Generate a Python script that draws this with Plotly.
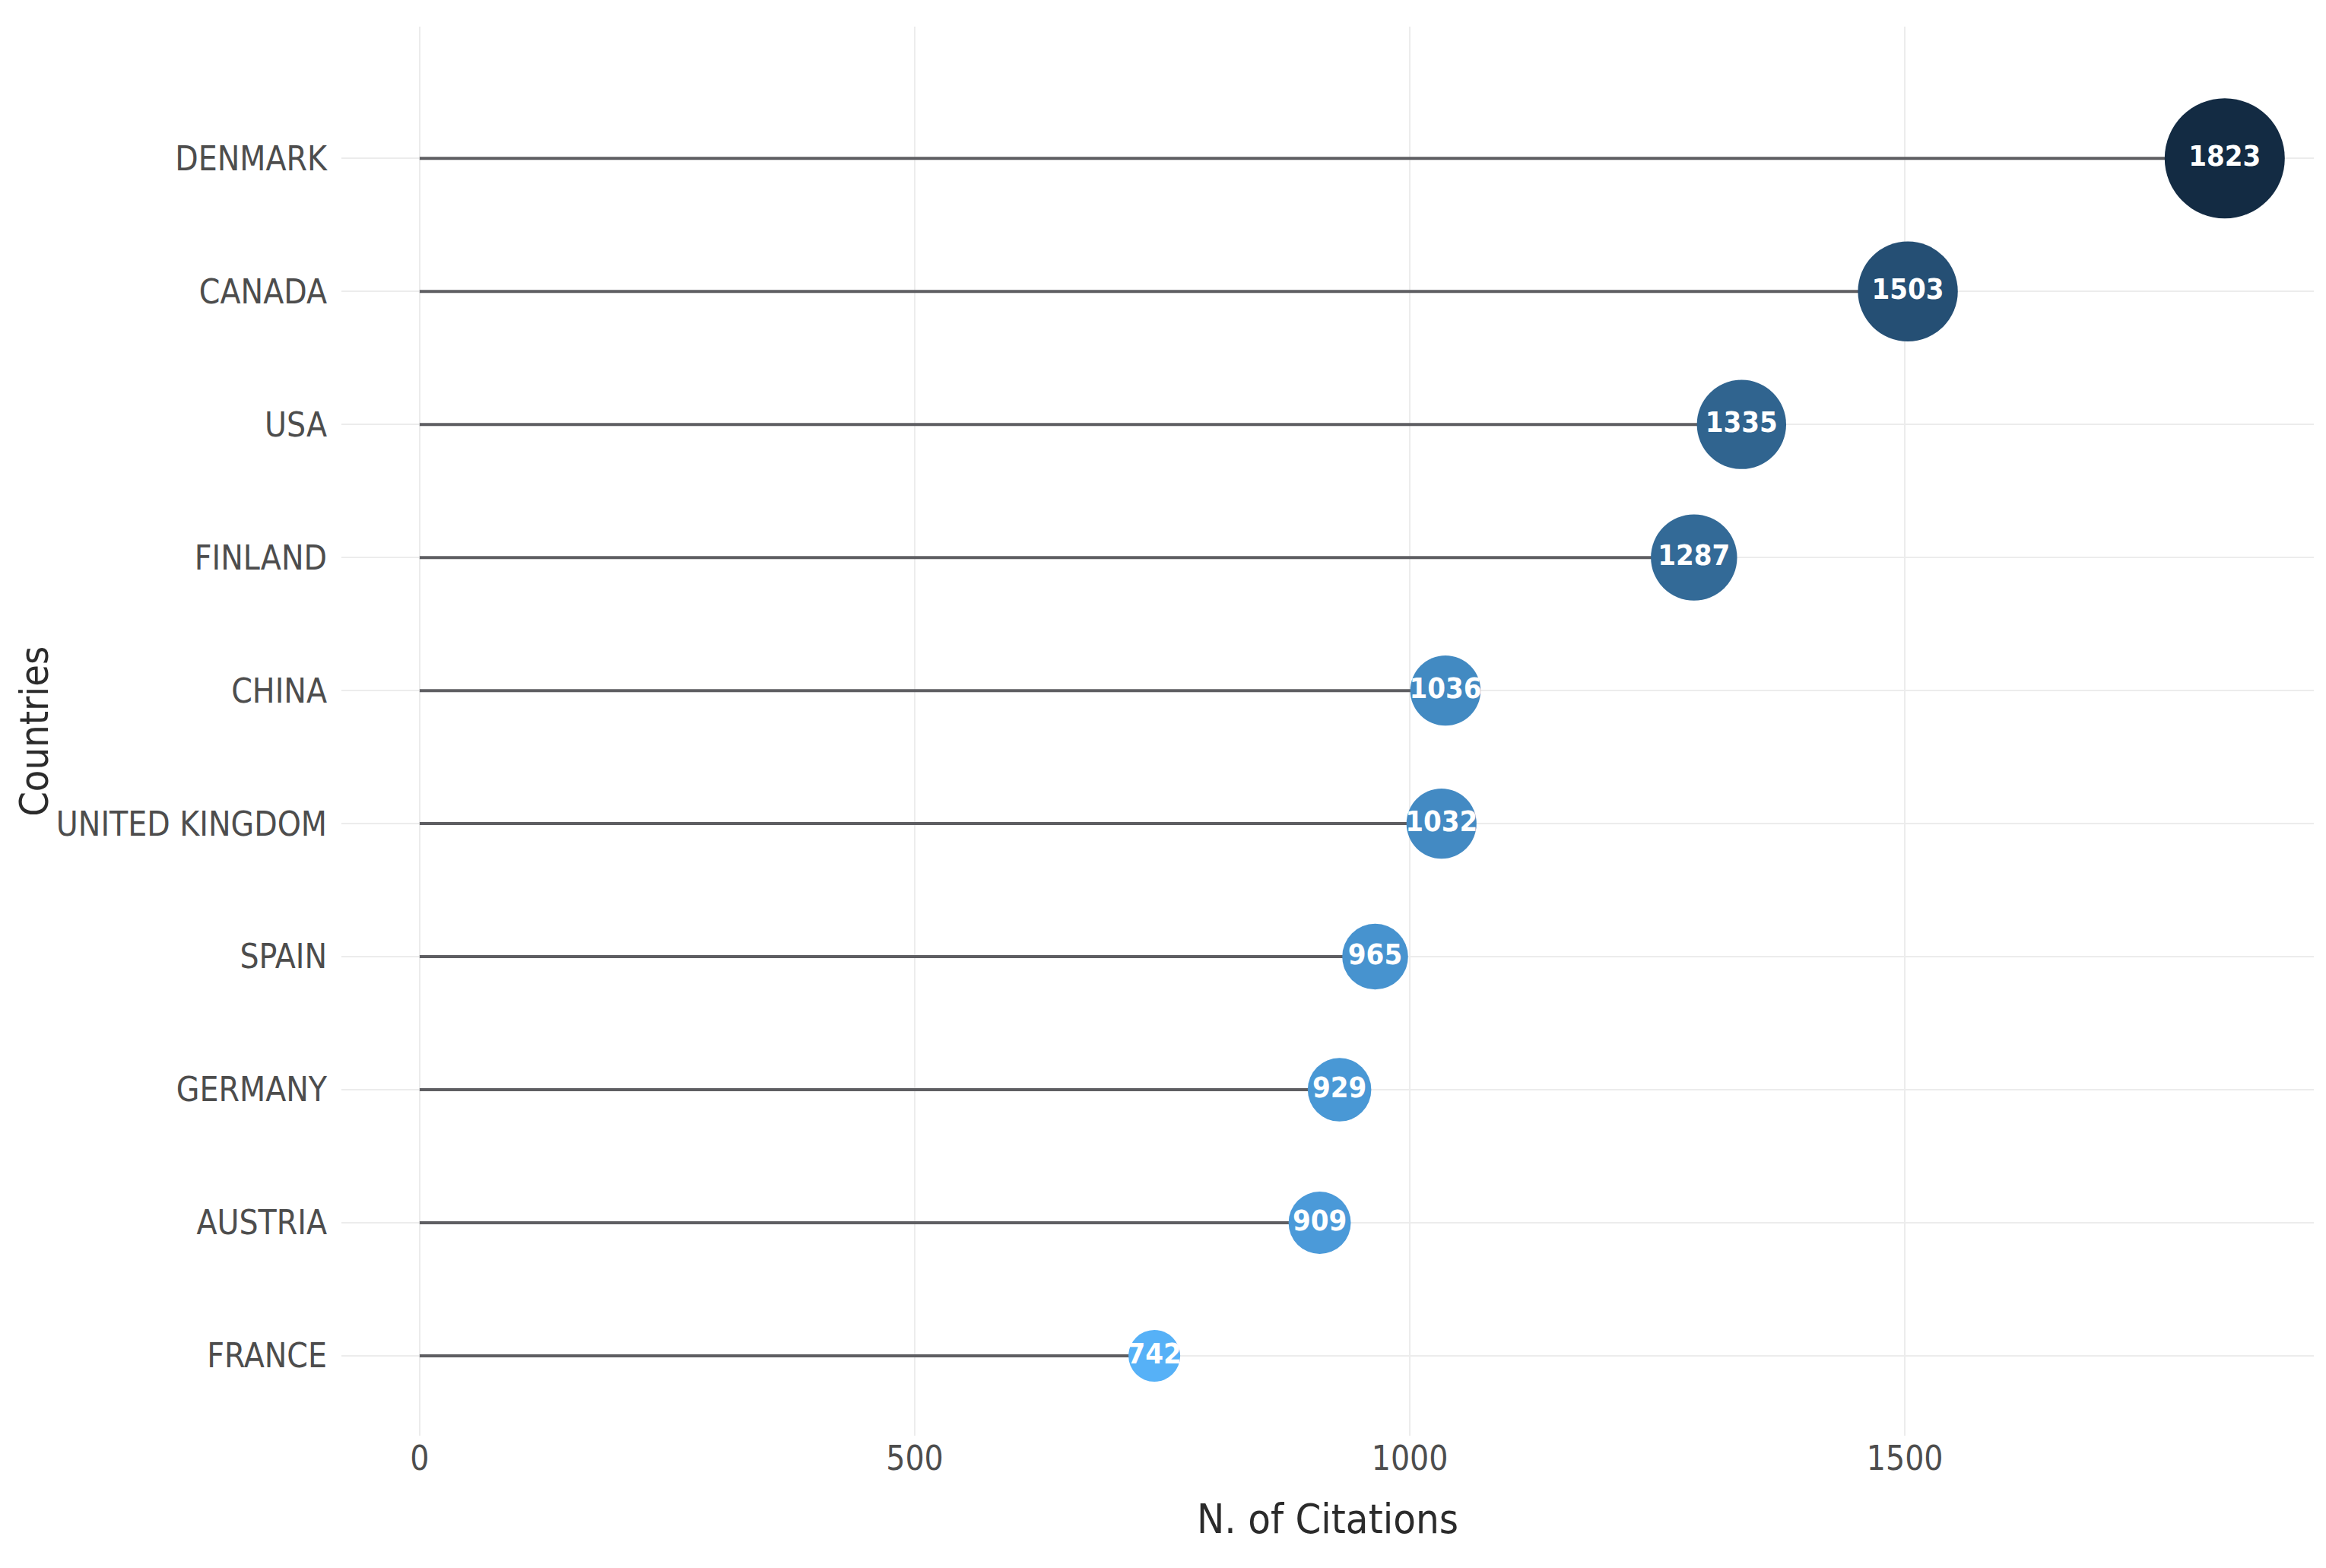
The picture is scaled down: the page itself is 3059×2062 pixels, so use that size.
import plotly.graph_objects as go

countries = ["FRANCE", "AUSTRIA", "GERMANY", "SPAIN", "UNITED KINGDOM",
             "CHINA", "FINLAND", "USA", "CANADA", "DENMARK"]
citations = [742, 909, 929, 965, 1032, 1036, 1287, 1335, 1503, 1823]
x_ticks = [0, 500, 1000, 1500]

# page has an 8px body margin: figure is offset by 8px
W, H = 3051, 2054
ML, MR, MT, MB = 441, 16, 27, 174

# --- colour: ggplot-like gradient (Lab interpolation) from #56B1F7 (low) to #132B43 (high)
def srgb_to_lin(c):
    c = c / 255.0
    return c / 12.92 if c <= 0.04045 else ((c + 0.055) / 1.055) ** 2.4

def lin_to_srgb(c):
    c = max(0.0, min(1.0, c))
    v = 12.92 * c if c <= 0.0031308 else 1.055 * c ** (1 / 2.4) - 0.055
    return int(round(v * 255))

def rgb_to_lab(h):
    r, g, b = [srgb_to_lin(int(h[i:i + 2], 16)) for i in (1, 3, 5)]
    X = (0.4124 * r + 0.3576 * g + 0.1805 * b) / 0.95047
    Y = (0.2126 * r + 0.7152 * g + 0.0722 * b)
    Z = (0.0193 * r + 0.1192 * g + 0.9505 * b) / 1.08883
    f = lambda t: t ** (1 / 3) if t > 0.008856 else 7.787 * t + 16 / 116
    fx, fy, fz = f(X), f(Y), f(Z)
    return 116 * fy - 16, 500 * (fx - fy), 200 * (fy - fz)

def lab_to_rgb(L, a, bb):
    fy = (L + 16) / 116
    fx = fy + a / 500
    fz = fy - bb / 200
    fi = lambda t: t ** 3 if t ** 3 > 0.008856 else (t - 16 / 116) / 7.787
    X, Y, Z = fi(fx) * 0.95047, fi(fy), fi(fz) * 1.08883
    r = 3.2406 * X - 1.5372 * Y - 0.4986 * Z
    g = -0.9689 * X + 1.8758 * Y + 0.0415 * Z
    b = 0.0557 * X - 0.2040 * Y + 1.0570 * Z
    return "#%02x%02x%02x" % (lin_to_srgb(r), lin_to_srgb(g), lin_to_srgb(b))

lo_lab, hi_lab = rgb_to_lab("#56B1F7"), rgb_to_lab("#132B43")
vmin, vmax = min(citations), max(citations)
colors = []
sizes = []
for v in citations:
    t = (v - vmin) / (vmax - vmin)
    colors.append(lab_to_rgb(*[lo + (hi - lo) * t for lo, hi in zip(lo_lab, hi_lab)]))
    sizes.append(68 + 90 * t)

# stems
seg_x, seg_y = [], []
for c, v in zip(countries, citations):
    seg_x += [0, v, None]
    seg_y += [c, c, None]

fig = go.Figure()
fig.add_trace(go.Scatter(x=seg_x, y=seg_y, mode="lines",
                         line=dict(color="#5e5e62", width=4),
                         hoverinfo="skip", showlegend=False))
fig.add_trace(go.Scatter(x=citations, y=countries, mode="markers+text",
                         marker=dict(size=sizes, sizemode="diameter", color=colors,
                                     opacity=1, line=dict(width=0)),
                         text=[str(v) for v in citations], textposition="middle center",
                         textfont=dict(family="DejaVu Sans Condensed, DejaVu Sans", size=38,
                                       color="white", weight="bold"),
                         showlegend=False))

tick_font = dict(family="DejaVu Sans Condensed, DejaVu Sans", size=44, color="#4d4d4d")
title_font = dict(family="DejaVu Sans Condensed, DejaVu Sans", size=54, color="#2b2b2b")

fig.update_layout(
    width=W, height=H,
    margin=dict(l=ML, r=MR, t=MT, b=MB, autoexpand=False),
    paper_bgcolor="white", plot_bgcolor="white",
    xaxis=dict(range=[-79, 1913], tickvals=x_ticks, ticktext=[str(t) for t in x_ticks],
               showgrid=True, gridcolor="#ececec", gridwidth=2, zeroline=False,
               showline=False, ticks="", tickfont=tick_font,
               title=dict(text="N. of Citations", font=title_font, standoff=36)),
    yaxis=dict(type="category", categoryorder="array", categoryarray=countries,
               range=[-0.6, 9.99], showgrid=True, gridcolor="#ececec", gridwidth=2,
               zeroline=False, showline=False, ticks="", tickfont=tick_font,
               ticklabelstandoff=18),
    annotations=[dict(text="Countries", textangle=-90, xref="paper", yref="paper",
                      x=-0.156, y=0.5, xanchor="center", yanchor="middle",
                      showarrow=False, font=dict(title_font, size=52))],
)

fig.write_html("out.html")
